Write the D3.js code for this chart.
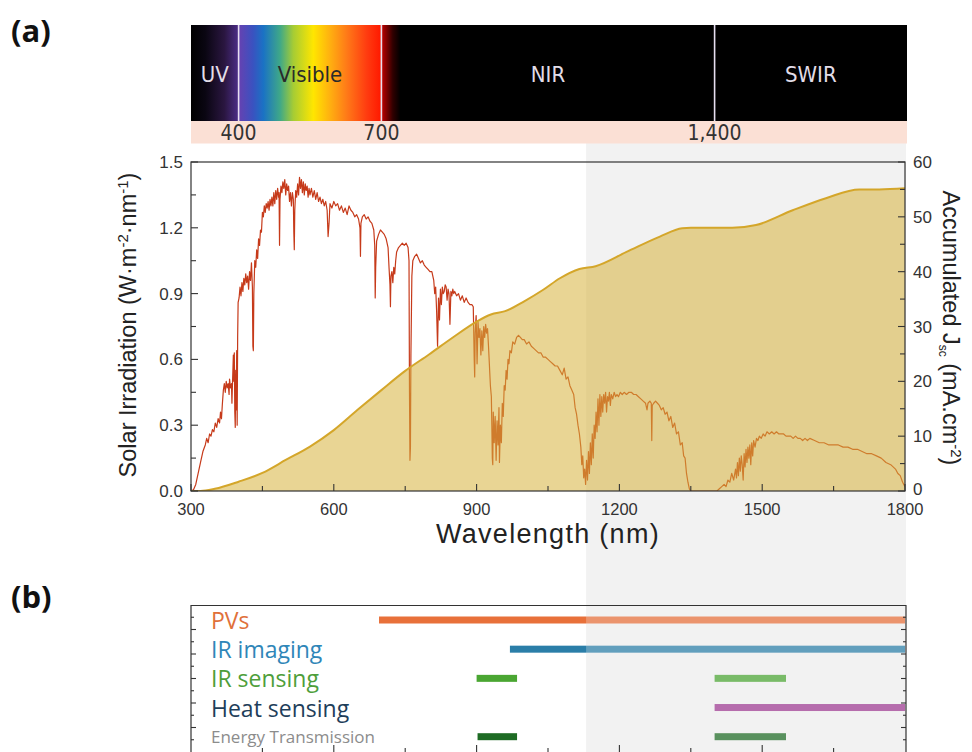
<!DOCTYPE html>
<html><head><meta charset="utf-8">
<script src="https://cdn.jsdelivr.net/npm/d3@7"></script>
<style>
html,body{margin:0;padding:0;background:#fff;}
svg{display:block;}
</style></head>
<body>
<svg id="chart" width="972" height="752"></svg>
<script>
// ---------------- DATA ----------------
const xTicks = [300, 600, 900, 1200, 1500, 1800];
const yLeftTicks = [0, 0.3, 0.6, 0.9, 1.2, 1.5];
const yRightTicks = [0, 10, 20, 30, 40, 50, 60];

const bandBounds = [300, 400, 700, 1400, 1800];
const bandNames = ["UV", "Visible", "NIR", "SWIR"];
const bandMarks = [400, 700, 1400];
const bandMarkLabels = ["400", "700", "1,400"];
const highlightRange = [1130, 1800];

// spectrum colour stops (wavelength, colour)
const rainbowStops = [
  [300, "#000000"], [330, "#0a0612"], [370, "#2a1640"], [398, "#4a2c84"],
  [402, "#6442b2"], [430, "#3a52c0"], [452, "#1a72c4"], [487, "#3fa888"],
  [515, "#a6cc34"], [557, "#ffe600"], [592, "#ffb010"], [627, "#ff7a18"],
  [669, "#ff3c10"], [698, "#ff1a00"], [703, "#b00000"], [724, "#300000"],
  [740, "#000000"], [1800, "#000000"]
];

// solar irradiation (wavelength nm, W m^-2 nm^-1)
const spectrum = [
[300,0.00],[305,0.005],[310,0.03],[315,0.08],[320,0.13],[325,0.18],[330,0.21],[333,0.24],[336,0.22],[339,0.26],
[342,0.25],[345,0.28],[348,0.27],[351,0.31],[354,0.29],[357,0.33],[360,0.31],[362,0.36],[364,0.33],[366,0.40],
[368,0.46],[370,0.49],[372,0.45],[374,0.50],[376,0.47],[378,0.49],[380,0.44],[381,0.51],[383,0.47],[385,0.49],
[386,0.40],[387,0.48],[389,0.62],[390,0.50],[391,0.63],[392,0.36],[393,0.29],[394,0.55],[395,0.37],[396,0.64],
[397,0.30],[398,0.70],[399,0.86],[401,0.88],[403,0.93],[405,0.89],[407,0.95],[409,0.91],[411,0.97],[413,0.94],
[415,0.99],[417,0.95],[419,0.98],[421,0.92],[423,1.00],[425,0.96],[427,1.04],[429,0.93],[430,0.66],[431,0.64],
[432,0.90],[434,1.05],[436,1.02],[438,1.10],[440,1.06],[442,1.15],[444,1.12],[446,1.19],[448,1.18],[450,1.27],
[452,1.25],[454,1.30],[456,1.27],[458,1.31],[460,1.29],[462,1.32],[464,1.28],[466,1.33],[468,1.30],[470,1.34],
[472,1.30],[474,1.36],[476,1.31],[478,1.37],[480,1.33],[482,1.38],[484,1.34],[485,1.36],[486,1.12],[487,1.33],
[489,1.39],[491,1.36],[493,1.41],[495,1.38],[497,1.42],[499,1.35],[501,1.40],[503,1.37],[505,1.39],[507,1.32],
[509,1.36],[511,1.30],[513,1.36],[515,1.33],[516,1.18],[517,1.10],[518,1.28],[520,1.37],[522,1.34],[524,1.40],
[526,1.35],[528,1.43],[530,1.38],[532,1.42],[534,1.36],[536,1.41],[538,1.35],[540,1.40],[542,1.37],[544,1.39],
[546,1.34],[548,1.38],[550,1.35],[553,1.38],[556,1.34],[559,1.37],[562,1.33],[565,1.36],[568,1.32],[571,1.34],
[574,1.31],[577,1.33],[580,1.30],[583,1.32],[586,1.28],[588,1.16],[590,1.22],[592,1.31],[596,1.29],[600,1.32],
[604,1.30],[608,1.31],[612,1.28],[616,1.30],[620,1.27],[624,1.29],[628,1.26],[632,1.30],[636,1.28],[640,1.27],
[644,1.25],[648,1.26],[652,1.24],[655,1.20],[656,1.07],[657,1.22],[660,1.25],[664,1.26],[668,1.24],[672,1.25],
[676,1.23],[680,1.22],[684,1.19],[686,1.12],[687,0.88],[688,1.02],[690,1.14],[694,1.17],[698,1.19],[702,1.18],
[706,1.17],[710,1.15],[714,1.11],[716,1.02],[718,0.94],[719,0.84],[720,0.98],[722,1.00],[724,0.95],[726,1.02],
[728,0.99],[730,1.05],[732,1.09],[736,1.11],[740,1.12],[744,1.13],[748,1.12],[752,1.13],[756,1.11],[758,1.05],
[759,0.45],[760,0.14],[761,0.20],[762,0.62],[764,0.98],[766,1.05],[770,1.07],[774,1.08],[778,1.06],[782,1.04],
[786,1.05],[790,1.03],[794,1.02],[798,1.01],[802,1.00],[806,1.00],[810,0.96],[812,0.90],[814,0.93],[816,0.82],
[818,0.66],[820,0.88],[822,0.78],[824,0.92],[826,0.85],[828,0.93],[830,0.90],[832,0.91],[834,0.94],[836,0.93],
[838,0.87],[840,0.92],[842,0.90],[844,0.76],[846,0.91],[848,0.89],[850,0.92],[852,0.90],[854,0.91],[858,0.89],
[862,0.90],[866,0.87],[870,0.89],[874,0.86],[878,0.88],[882,0.86],[886,0.85],[890,0.85],[893,0.84],[895,0.60],
[896,0.52],[897,0.72],[899,0.80],[901,0.58],[903,0.77],[905,0.70],[907,0.74],[909,0.62],[911,0.73],[913,0.64],
[915,0.75],[917,0.70],[919,0.76],[921,0.72],[923,0.74],[925,0.66],[927,0.57],[929,0.48],[931,0.43],[932,0.30],
[933,0.15],[934,0.12],[935,0.36],[937,0.22],[939,0.34],[941,0.14],[943,0.32],[945,0.21],[947,0.38],[948,0.13],
[950,0.30],[952,0.22],[954,0.40],[956,0.34],[958,0.48],[960,0.46],[962,0.55],[964,0.51],[966,0.60],[968,0.58],
[970,0.64],[973,0.63],[976,0.68],[980,0.67],[984,0.70],[988,0.71],[992,0.70],[996,0.69],[1000,0.69],[1005,0.67],
[1010,0.68],[1015,0.66],[1020,0.65],[1025,0.64],[1030,0.63],[1035,0.63],[1040,0.61],[1045,0.61],[1050,0.60],[1055,0.59],
[1060,0.58],[1065,0.57],[1070,0.57],[1075,0.55],[1080,0.53],[1084,0.56],[1088,0.51],[1092,0.52],[1096,0.48],[1100,0.46],
[1104,0.44],[1107,0.38],[1110,0.35],[1113,0.30],[1116,0.26],[1119,0.20],[1121,0.12],[1123,0.16],[1125,0.06],[1127,0.10],
[1129,0.03],[1131,0.14],[1133,0.05],[1135,0.18],[1137,0.08],[1139,0.22],[1141,0.12],[1143,0.26],[1145,0.15],[1147,0.30],
[1149,0.24],[1151,0.36],[1153,0.27],[1155,0.42],[1157,0.30],[1159,0.44],[1161,0.34],[1163,0.43],[1165,0.36],[1167,0.44],
[1169,0.40],[1171,0.45],[1173,0.36],[1175,0.43],[1177,0.41],[1179,0.45],[1181,0.39],[1183,0.44],[1186,0.42],[1189,0.45],
[1192,0.43],[1195,0.44],[1198,0.43],[1202,0.45],[1206,0.44],[1210,0.45],[1215,0.44],[1220,0.45],[1225,0.45],[1230,0.44],
[1235,0.44],[1240,0.43],[1245,0.42],[1250,0.41],[1255,0.40],[1258,0.37],[1260,0.40],[1264,0.41],[1267,0.40],[1268,0.23],
[1269,0.39],[1272,0.40],[1276,0.41],[1280,0.40],[1284,0.39],[1288,0.37],[1292,0.38],[1296,0.35],[1300,0.36],[1304,0.32],
[1308,0.34],[1312,0.29],[1316,0.31],[1320,0.26],[1324,0.27],[1328,0.21],[1332,0.22],[1335,0.16],[1338,0.15],[1341,0.08],
[1344,0.04],[1347,0.01],[1350,0.00],[1400,0.00],[1405,0.00],[1410,0.01],[1415,0.02],[1420,0.03],[1424,0.02],[1428,0.05],
[1432,0.04],[1436,0.08],[1440,0.05],[1444,0.10],[1446,0.06],[1448,0.13],[1450,0.07],[1452,0.15],[1454,0.09],[1456,0.16],
[1458,0.12],[1460,0.05],[1462,0.17],[1464,0.11],[1466,0.19],[1468,0.13],[1470,0.20],[1472,0.15],[1474,0.21],[1476,0.12],
[1478,0.22],[1480,0.16],[1482,0.23],[1485,0.20],[1488,0.24],[1491,0.23],[1494,0.25],[1498,0.24],[1502,0.26],[1506,0.25],
[1510,0.27],[1515,0.26],[1520,0.27],[1525,0.26],[1530,0.27],[1535,0.26],[1540,0.26],[1545,0.26],[1550,0.25],[1555,0.25],
[1560,0.25],[1565,0.24],[1570,0.25],[1575,0.24],[1580,0.24],[1585,0.23],[1590,0.24],[1595,0.23],[1600,0.24],[1610,0.23],
[1620,0.22],[1630,0.22],[1640,0.21],[1650,0.21],[1660,0.21],[1670,0.20],[1680,0.20],[1690,0.19],[1700,0.19],[1710,0.18],
[1720,0.17],[1730,0.17],[1740,0.16],[1750,0.15],[1760,0.13],[1770,0.12],[1780,0.10],[1785,0.08],[1790,0.07],[1795,0.04],
[1800,0.02]
];

// accumulated Jsc (wavelength nm, mA cm^-2)
const jsc = [
[300,0],[320,0],[350,0.4],[400,1.7],[450,3.3],[500,5.7],[550,8.1],[600,11.1],[650,14.8],[700,18.4],
[750,21.9],[800,24.9],[850,28.0],[900,30.9],[930,32.2],[960,32.8],[1000,34.6],[1040,36.7],[1075,38.8],[1116,40.5],
[1150,41.0],[1215,43.6],[1285,46.4],[1332,47.9],[1350,48.0],[1437,48.0],[1487,48.5],[1564,51.2],[1634,53.4],[1704,55.0],
[1746,55.0],[1800,55.2]
];

// panel (b) applications
const apps = ["PVs", "IR imaging", "IR sensing", "Heat sensing", "Energy Transmission"];
const appColors = ["#e8703a", "#2a7ea8", "#4aa632", "#9e3a92", "#1e6b24"];
const appTextColors = ["#e0703a", "#2f86b8", "#4e9e3a", "#1e3e5a", "#8c8c8c"];
const appRanges = [
  [[695, 1800]],
  [[970, 1800]],
  [[900, 985], [1400, 1550]],
  [[1400, 1800]],
  [[902, 985], [1400, 1550]]
];

// ---------------- DRAW ----------------
const svg = d3.select("#chart");
const x = d3.scaleLinear().domain([300, 1800]).range([191, 905]);
const yL = d3.scaleLinear().domain([0, 1.5]).range([491, 162]);
const yR = d3.scaleLinear().domain([0, 60]).range([491, 162]);
const axisColor = "#333";
const narrow = "'Liberation Sans Narrow','DejaVu Sans Condensed',Arial,sans-serif";
const arial = "'Liberation Sans',Arial,sans-serif";

// gray highlight (behind)
svg.append("rect")
  .attr("x", x(highlightRange[0])).attr("y", 143)
  .attr("width", 906 - x(highlightRange[0])).attr("height", 752 - 143)
  .attr("fill", "#f2f2f2");

// panel labels
svg.append("text").attr("x", 11).attr("y", 42).text("(a)")
  .attr("font-family", "'Open Sans',sans-serif").attr("font-weight", 700).attr("font-size", 31).attr("fill", "#111");
svg.append("text").attr("x", 11).attr("y", 608).text("(b)")
  .attr("font-family", "'Open Sans',sans-serif").attr("font-weight", 700).attr("font-size", 31).attr("fill", "#111");

// ---- spectrum band ----
const defs = svg.append("defs");
const grad = defs.append("linearGradient").attr("id", "rainbow")
  .attr("gradientUnits", "userSpaceOnUse")
  .attr("x1", x(300)).attr("x2", x(1800)).attr("y1", 0).attr("y2", 0);
rainbowStops.forEach(s => grad.append("stop")
  .attr("offset", (x(s[0]) - x(300)) / (x(1800) - x(300)))
  .attr("stop-color", s[1]));

svg.append("rect").attr("x", 191).attr("y", 25).attr("width", 716).attr("height", 96)
  .attr("fill", "url(#rainbow)");
svg.append("rect").attr("x", 191).attr("y", 121).attr("width", 716).attr("height", 22.5)
  .attr("fill", "#fbe0d5");
svg.selectAll(".bandLine").data(bandMarks).join("line")
  .attr("x1", d => x(d)).attr("x2", d => x(d)).attr("y1", 25).attr("y2", 121)
  .attr("stroke", "#e6def0").attr("stroke-width", 1.6);
const bandCenters = bandNames.map((n, i) => {
  const a = x(bandBounds[i]), b = i === bandNames.length - 1 ? 907 : x(bandBounds[i + 1]);
  return (a + b) / 2;
});
svg.selectAll(".bandName").data(bandNames).join("text")
  .attr("x", (d, i) => bandCenters[i]).attr("y", 82)
  .attr("text-anchor", "middle").attr("font-family", narrow).attr("font-size", 22)
  .attr("fill", (d, i) => i === 1 ? "#2a2a2a" : "#e2dde8")
  .text(d => d);
svg.selectAll(".bandMark").data(bandMarks).join("text")
  .attr("x", d => x(d)).attr("y", 140)
  .attr("text-anchor", "middle").attr("font-family", narrow).attr("font-size", 21)
  .attr("fill", "#333")
  .text((d, i) => bandMarkLabels[i]);

// ---- panel (a) plot ----
defs.append("clipPath").attr("id", "plotClip").append("rect")
  .attr("x", 191).attr("y", 162).attr("width", 714).attr("height", 329);
const plot = svg.append("g").attr("clip-path", "url(#plotClip)");

plot.append("path").datum(spectrum)
  .attr("d", d3.line().x(d => x(d[0])).y(d => yL(d[1])))
  .attr("fill", "none").attr("stroke", "#c63a1a").attr("stroke-width", 1.2)
  .attr("stroke-linejoin", "round");

plot.append("path").datum(jsc)
  .attr("d", d3.area().x(d => x(d[0])).y0(yR(0)).y1(d => yR(d[1])).curve(d3.curveMonotoneX))
  .attr("fill", "#d7b33c").attr("fill-opacity", 0.55);
plot.append("path").datum(jsc)
  .attr("d", d3.line().x(d => x(d[0])).y(d => yR(d[1])).curve(d3.curveMonotoneX))
  .attr("fill", "none").attr("stroke", "#d4a62a").attr("stroke-width", 2);

// frame
svg.append("rect").attr("x", 191).attr("y", 162).attr("width", 714).attr("height", 329)
  .attr("fill", "none").attr("stroke", axisColor).attr("stroke-width", 1.2);

// ticks
const tickG = svg.append("g").attr("stroke", axisColor).attr("stroke-width", 1.1);
d3.range(300, 1801, 150).forEach(v => {
  const major = v % 300 === 0;
  tickG.append("line").attr("x1", x(v)).attr("x2", x(v)).attr("y1", 491).attr("y2", 491 - (major ? 7 : 5));
});
d3.range(0, 1.51, 0.15).forEach(v => {
  const major = Math.round(v * 100) % 30 === 0;
  tickG.append("line").attr("x1", 191).attr("x2", 191 + (major ? 7 : 5)).attr("y1", yL(v)).attr("y2", yL(v));
});
d3.range(0, 61, 5).forEach(v => {
  const major = v % 10 === 0;
  tickG.append("line").attr("x1", 905).attr("x2", 905 - (major ? 7 : 5)).attr("y1", yR(v)).attr("y2", yR(v));
});

// tick labels
svg.selectAll(".xtl").data(xTicks).join("text")
  .attr("x", d => x(d)).attr("y", 515).attr("text-anchor", "middle")
  .attr("font-family", arial).attr("font-size", 16.5).attr("fill", "#333").text(d => d);
svg.selectAll(".yltl").data(yLeftTicks).join("text")
  .attr("x", 183).attr("y", d => yL(d) + 6).attr("text-anchor", "end")
  .attr("font-family", arial).attr("font-size", 17).attr("fill", "#333").text(d => d3.format(".1f")(d));
svg.selectAll(".yrtl").data(yRightTicks).join("text")
  .attr("x", 913).attr("y", d => yR(d) + (d === 0 ? 3.5 : 6)).attr("text-anchor", "start")
  .attr("font-family", arial).attr("font-size", 17).attr("fill", "#333").text(d => d);

// axis titles
svg.append("text").attr("x", 548).attr("y", 543).attr("text-anchor", "middle")
  .attr("font-family", arial).attr("font-size", 27).attr("letter-spacing", 1.3).attr("fill", "#222")
  .text("Wavelength (nm)");

const lt = svg.append("text").attr("transform", "translate(136,325) rotate(-90)")
  .attr("text-anchor", "middle").attr("font-family", arial).attr("font-size", 23.5).attr("fill", "#222");
lt.append("tspan").text("Solar Irradiation (W·m");
lt.append("tspan").attr("baseline-shift", "super").attr("font-size", 15).text("-2");
lt.append("tspan").text("·nm");
lt.append("tspan").attr("baseline-shift", "super").attr("font-size", 15).text("-1");
lt.append("tspan").text(")");

const rt = svg.append("text").attr("transform", "translate(943,328) rotate(90)")
  .attr("text-anchor", "middle").attr("font-family", arial).attr("font-size", 23.5).attr("fill", "#222");
rt.append("tspan").text("Accumulated J");
rt.append("tspan").attr("dy", 4).attr("font-size", 12).text("sc");
rt.append("tspan").attr("dy", -4).text(" (mA.cm");
rt.append("tspan").attr("baseline-shift", "super").attr("font-size", 15).text("-2");
rt.append("tspan").text(")");

// ---- panel (b) ----
const yB = d3.scaleLinear().domain([0, 6]).range([605, 752]);
const rowY = d3.scalePoint().domain(apps).range([620, 736.7]);

const barsG = svg.append("g");
apps.forEach((a, i) => {
  appRanges[i].forEach(r => {
    barsG.append("rect").attr("x", x(r[0])).attr("y", rowY(a) - 3.5)
      .attr("width", x(r[1]) - x(r[0])).attr("height", 7).attr("fill", appColors[i]);
  });
});
// lightening overlay in the highlighted region
svg.append("rect").attr("x", x(highlightRange[0])).attr("y", 605)
  .attr("width", 906 - x(highlightRange[0])).attr("height", 147)
  .attr("fill", "#f4f4f4").attr("fill-opacity", 0.28);

svg.selectAll(".appLabel").data(apps).join("text")
  .attr("x", 211).attr("y", (d, i) => rowY(d) + (i === 4 ? 6 : 9))
  .attr("font-family", "'Open Sans',sans-serif")
  .attr("font-size", (d, i) => i === 4 ? 17 : 23)
  .attr("fill", (d, i) => appTextColors[i]).text(d => d);

// panel (b) frame and ticks
svg.append("path")
  .attr("d", `M191,752V605.5H906V752`)
  .attr("fill", "none").attr("stroke", axisColor).attr("stroke-width", 1.2);
const tb = svg.append("g").attr("stroke", axisColor).attr("stroke-width", 1.1);
d3.range(0.5, 6, 0.5).forEach(v => {
  const major = v % 1 === 0;
  tb.append("line").attr("x1", 191).attr("x2", 191 + (major ? 5 : 3)).attr("y1", yB(v)).attr("y2", yB(v));
  tb.append("line").attr("x1", 906).attr("x2", 906 - (major ? 5 : 3)).attr("y1", yB(v)).attr("y2", yB(v));
});
d3.range(450, 1800, 150).forEach(v => {
  const major = v % 300 === 0;
  tb.append("line").attr("x1", x(v)).attr("x2", x(v)).attr("y1", 752).attr("y2", 752 - (major ? 7 : 4));
});
</script>
</body></html>
